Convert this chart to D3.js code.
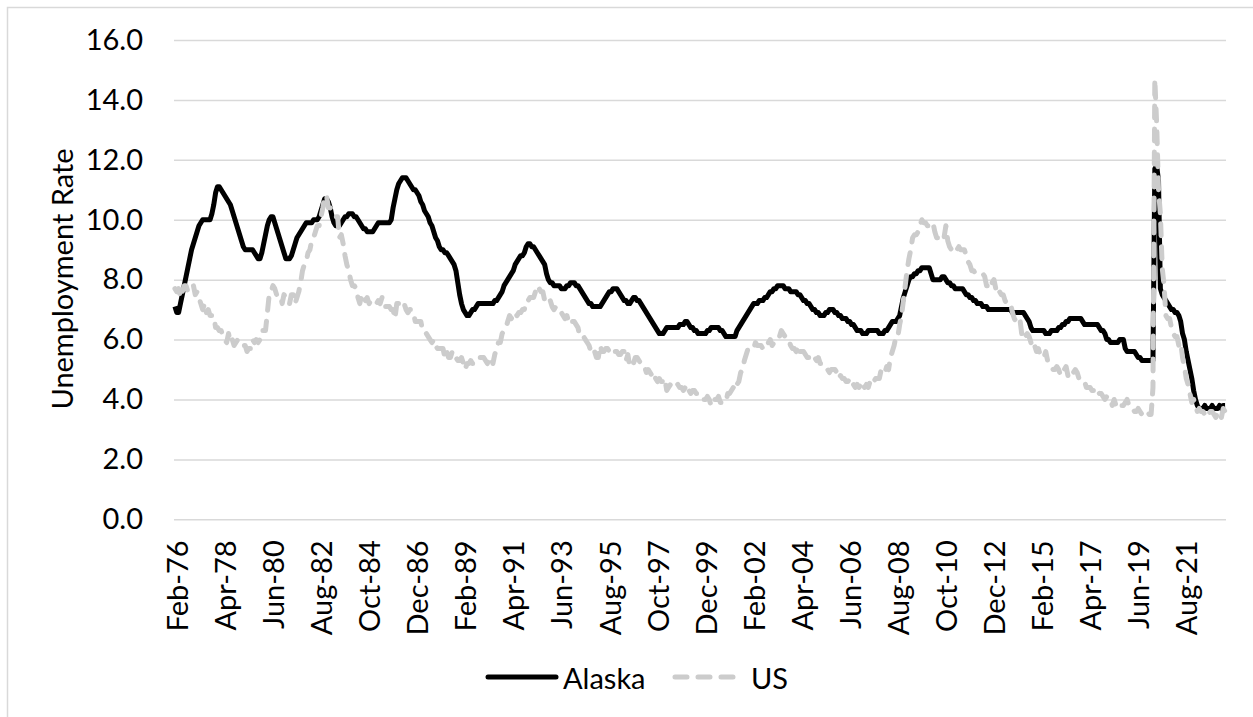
<!DOCTYPE html>
<html>
<head>
<meta charset="utf-8">
<script src="https://cdn.jsdelivr.net/npm/d3@7"></script>
<style>
  html, body { margin: 0; padding: 0; background: #fff; }
  svg { display: block; font-family: Lato, Carlito, Calibri, sans-serif; }
</style>
</head>
<body>
<div id="chart"></div>
<script>
// --- data: monthly unemployment rate, Feb-76 .. Jun-23
const monthNames = ['Jan', 'Feb', 'Mar', 'Apr', 'May', 'Jun', 'Jul', 'Aug', 'Sep', 'Oct', 'Nov', 'Dec'];

const tickLabels = ['Feb-76', 'Apr-78', 'Jun-80', 'Aug-82', 'Oct-84', 'Dec-86', 'Feb-89', 'Apr-91',
    'Jun-93', 'Aug-95', 'Oct-97', 'Dec-99', 'Feb-02', 'Apr-04', 'Jun-06', 'Aug-08', 'Oct-10',
    'Dec-12', 'Feb-15', 'Apr-17', 'Jun-19', 'Aug-21'];

const yTicks = [0, 2, 4, 6, 8, 10, 12, 14, 16];

const seriesNames = ['Alaska', 'US'];

const alaskaRate = [
    7.1, 6.9, 6.9, 7.2, 7.5, 7.8, 8.1, 8.4, 8.7, 9.0, 9.2,                 // 1976 (Feb-)
    9.4, 9.6, 9.8, 9.9, 10.0, 10.0, 10.0, 10.0, 10.0, 10.2, 10.5, 10.9,    // 1977
    11.1, 11.1, 11.0, 10.9, 10.8, 10.7, 10.6, 10.5, 10.3, 10.1, 9.9, 9.7,  // 1978
    9.5, 9.3, 9.1, 9.0, 9.0, 9.0, 9.0, 9.0, 8.9, 8.8, 8.7, 8.7,            // 1979
    8.9, 9.2, 9.5, 9.8, 10.0, 10.1, 10.1, 9.9, 9.7, 9.5, 9.3, 9.1,         // 1980
    8.9, 8.7, 8.7, 8.7, 8.8, 9.0, 9.2, 9.4, 9.5, 9.6, 9.7, 9.8,            // 1981
    9.9, 9.9, 9.9, 9.9, 10.0, 10.0, 10.0, 10.1, 10.3, 10.5, 10.7, 10.7,    // 1982
    10.6, 10.4, 10.1, 9.9, 9.8, 9.8, 9.8, 9.9, 10.0, 10.1, 10.1, 10.2,     // 1983
    10.2, 10.2, 10.1, 10.1, 10.0, 9.9, 9.8, 9.7, 9.7, 9.6, 9.6, 9.6,       // 1984
    9.6, 9.7, 9.8, 9.9, 9.9, 9.9, 9.9, 9.9, 9.9, 9.9, 10.0, 10.4,          // 1985
    10.7, 11.0, 11.2, 11.3, 11.4, 11.4, 11.4, 11.3, 11.2, 11.1, 11.0, 11.0, // 1986
    10.9, 10.8, 10.6, 10.5, 10.3, 10.2, 10.1, 9.9, 9.8, 9.6, 9.4, 9.3,     // 1987
    9.1, 9.0, 9.0, 8.9, 8.9, 8.8, 8.7, 8.6, 8.5, 8.3, 7.9, 7.5,            // 1988
    7.2, 7.0, 6.9, 6.8, 6.8, 6.9, 7.0, 7.0, 7.1, 7.2, 7.2, 7.2,            // 1989
    7.2, 7.2, 7.2, 7.2, 7.2, 7.2, 7.3, 7.3, 7.4, 7.5, 7.6, 7.8,            // 1990
    7.9, 8.0, 8.1, 8.2, 8.3, 8.5, 8.6, 8.7, 8.8, 8.8, 8.9, 9.1,            // 1991
    9.2, 9.2, 9.1, 9.1, 9.0, 8.9, 8.8, 8.7, 8.6, 8.5, 8.2, 8.0,            // 1992
    7.9, 7.9, 7.8, 7.8, 7.8, 7.8, 7.7, 7.7, 7.7, 7.8, 7.8, 7.9,            // 1993
    7.9, 7.9, 7.8, 7.8, 7.7, 7.6, 7.5, 7.4, 7.3, 7.2, 7.2, 7.1,            // 1994
    7.1, 7.1, 7.1, 7.1, 7.2, 7.3, 7.4, 7.5, 7.6, 7.6, 7.7, 7.7,            // 1995
    7.7, 7.6, 7.5, 7.4, 7.3, 7.3, 7.2, 7.2, 7.3, 7.4, 7.4, 7.3,            // 1996
    7.3, 7.2, 7.1, 7.0, 6.9, 6.8, 6.7, 6.6, 6.5, 6.4, 6.3, 6.2,            // 1997
    6.2, 6.2, 6.3, 6.4, 6.4, 6.4, 6.4, 6.4, 6.4, 6.4, 6.5, 6.5,            // 1998
    6.5, 6.6, 6.6, 6.5, 6.4, 6.4, 6.3, 6.3, 6.2, 6.2, 6.2, 6.2,            // 1999
    6.2, 6.3, 6.3, 6.4, 6.4, 6.4, 6.4, 6.4, 6.3, 6.3, 6.2, 6.1,            // 2000
    6.1, 6.1, 6.1, 6.1, 6.1, 6.3, 6.4, 6.5, 6.6, 6.7, 6.8, 6.9,            // 2001
    7.0, 7.1, 7.2, 7.2, 7.2, 7.3, 7.3, 7.3, 7.4, 7.4, 7.5, 7.6,            // 2002
    7.6, 7.7, 7.7, 7.8, 7.8, 7.8, 7.8, 7.7, 7.7, 7.7, 7.6, 7.6,            // 2003
    7.6, 7.6, 7.5, 7.5, 7.4, 7.3, 7.3, 7.2, 7.2, 7.1, 7.0, 7.0,            // 2004
    6.9, 6.9, 6.8, 6.8, 6.8, 6.9, 6.9, 7.0, 7.0, 7.0, 6.9, 6.9,            // 2005
    6.8, 6.8, 6.7, 6.7, 6.7, 6.6, 6.6, 6.5, 6.5, 6.4, 6.3, 6.3,            // 2006
    6.3, 6.2, 6.2, 6.2, 6.3, 6.3, 6.3, 6.3, 6.3, 6.3, 6.2, 6.2,            // 2007
    6.2, 6.3, 6.3, 6.4, 6.5, 6.6, 6.6, 6.6, 6.7, 6.8, 7.1, 7.4,            // 2008
    7.6, 7.8, 8.0, 8.1, 8.1, 8.2, 8.2, 8.3, 8.3, 8.4, 8.4, 8.4,            // 2009
    8.4, 8.4, 8.2, 8.0, 8.0, 8.0, 8.0, 8.0, 8.1, 8.1, 8.0, 7.9,            // 2010
    7.9, 7.8, 7.8, 7.7, 7.7, 7.7, 7.7, 7.7, 7.6, 7.5, 7.5, 7.4,            // 2011
    7.4, 7.3, 7.3, 7.2, 7.2, 7.2, 7.1, 7.1, 7.1, 7.0, 7.0, 7.0,            // 2012
    7.0, 7.0, 7.0, 7.0, 7.0, 7.0, 7.0, 7.0, 7.0, 7.0, 6.9, 6.9,            // 2013
    6.9, 6.9, 6.9, 6.9, 6.9, 6.8, 6.7, 6.6, 6.4, 6.3, 6.3, 6.3,            // 2014
    6.3, 6.3, 6.3, 6.3, 6.2, 6.2, 6.2, 6.3, 6.3, 6.3, 6.3, 6.4,            // 2015
    6.4, 6.5, 6.5, 6.6, 6.6, 6.7, 6.7, 6.7, 6.7, 6.7, 6.7, 6.7,            // 2016
    6.6, 6.5, 6.5, 6.5, 6.5, 6.5, 6.5, 6.5, 6.5, 6.4, 6.3, 6.3,            // 2017
    6.2, 6.0, 6.0, 5.9, 5.9, 5.9, 5.9, 5.9, 6.0, 6.0, 6.0, 5.7,            // 2018
    5.6, 5.6, 5.6, 5.6, 5.6, 5.5, 5.4, 5.4, 5.3, 5.3, 5.3, 5.3,            // 2019
    5.3, 5.3, 5.3, 11.7, 11.8, 11.3, 7.7, 7.5, 7.4, 7.3, 7.2, 7.1,         // 2020
    7.0, 7.0, 6.9, 6.9, 6.8, 6.6, 6.2, 6.0, 5.6, 5.3, 5.0, 4.7,            // 2021
    4.3, 4.0, 3.8, 3.7, 3.7, 3.7, 3.8, 3.7, 3.7, 3.7, 3.8, 3.7,            // 2022
    3.7, 3.7, 3.8, 3.7, 3.8, 3.8                                           // 2023 (-Jun)
];

const usRate = [
    7.7, 7.6, 7.7, 7.4, 7.6, 7.8, 7.8, 7.6, 7.7, 7.8, 7.8,                 // 1976 (Feb-)
    7.5, 7.6, 7.4, 7.2, 7.0, 7.2, 6.9, 7.0, 6.8, 6.8, 6.8, 6.4,            // 1977
    6.4, 6.3, 6.3, 6.1, 6.0, 5.9, 6.2, 5.9, 6.0, 5.8, 5.9, 6.0,            // 1978
    5.9, 5.9, 5.8, 5.8, 5.6, 5.7, 5.7, 6.0, 5.9, 6.0, 5.9, 6.0,            // 1979
    6.3, 6.3, 6.3, 6.9, 7.5, 7.6, 7.8, 7.7, 7.5, 7.5, 7.5, 7.2,            // 1980
    7.5, 7.4, 7.4, 7.2, 7.5, 7.5, 7.2, 7.4, 7.6, 7.9, 8.3, 8.5,            // 1981
    8.6, 8.9, 9.0, 9.3, 9.4, 9.6, 9.8, 9.8, 10.1, 10.4, 10.8, 10.8,        // 1982
    10.4, 10.4, 10.3, 10.2, 10.1, 10.1, 9.4, 9.5, 9.2, 8.8, 8.5, 8.3,      // 1983
    8.0, 7.8, 7.8, 7.7, 7.4, 7.2, 7.5, 7.5, 7.3, 7.4, 7.2, 7.3,            // 1984
    7.3, 7.2, 7.2, 7.3, 7.2, 7.4, 7.4, 7.1, 7.1, 7.1, 7.0, 7.0,            // 1985
    6.7, 7.2, 7.2, 7.1, 7.2, 7.2, 7.0, 6.9, 7.0, 7.0, 6.9, 6.6,            // 1986
    6.6, 6.6, 6.6, 6.3, 6.3, 6.2, 6.1, 6.0, 5.9, 6.0, 5.8, 5.7,            // 1987
    5.7, 5.7, 5.7, 5.4, 5.6, 5.4, 5.4, 5.6, 5.4, 5.4, 5.3, 5.3,            // 1988
    5.4, 5.2, 5.0, 5.2, 5.2, 5.3, 5.2, 5.2, 5.3, 5.3, 5.4, 5.4,            // 1989
    5.4, 5.3, 5.2, 5.4, 5.4, 5.2, 5.5, 5.7, 5.9, 5.9, 6.2, 6.3,            // 1990
    6.4, 6.6, 6.8, 6.7, 6.9, 6.9, 6.8, 6.9, 6.9, 7.0, 7.0, 7.3,            // 1991
    7.3, 7.4, 7.4, 7.4, 7.6, 7.8, 7.7, 7.6, 7.6, 7.3, 7.4, 7.4,            // 1992
    7.3, 7.1, 7.0, 7.1, 7.1, 7.0, 6.9, 6.8, 6.7, 6.8, 6.6, 6.5,            // 1993
    6.6, 6.6, 6.5, 6.4, 6.1, 6.1, 6.1, 6.0, 5.9, 5.8, 5.6, 5.5,            // 1994
    5.6, 5.4, 5.4, 5.8, 5.6, 5.6, 5.7, 5.7, 5.6, 5.5, 5.6, 5.6,            // 1995
    5.6, 5.5, 5.5, 5.6, 5.6, 5.3, 5.5, 5.1, 5.2, 5.2, 5.4, 5.4,            // 1996
    5.3, 5.2, 5.2, 5.1, 4.9, 5.0, 4.9, 4.8, 4.9, 4.7, 4.6, 4.7,            // 1997
    4.6, 4.6, 4.7, 4.3, 4.4, 4.5, 4.5, 4.5, 4.6, 4.5, 4.4, 4.4,            // 1998
    4.3, 4.4, 4.2, 4.3, 4.2, 4.3, 4.3, 4.2, 4.2, 4.1, 4.1, 4.0,            // 1999
    4.0, 4.1, 4.0, 3.8, 4.0, 4.0, 4.0, 4.1, 3.9, 3.9, 3.9, 3.9,            // 2000
    4.2, 4.2, 4.3, 4.4, 4.3, 4.5, 4.6, 4.9, 5.0, 5.3, 5.5, 5.7,            // 2001
    5.7, 5.7, 5.7, 5.9, 5.8, 5.8, 5.8, 5.7, 5.7, 5.7, 5.9, 6.0,            // 2002
    5.8, 5.9, 5.9, 6.0, 6.1, 6.3, 6.2, 6.1, 6.1, 6.0, 5.8, 5.7,            // 2003
    5.7, 5.6, 5.8, 5.6, 5.6, 5.6, 5.5, 5.4, 5.4, 5.5, 5.4, 5.4,            // 2004
    5.3, 5.4, 5.2, 5.2, 5.1, 5.0, 5.0, 4.9, 5.0, 5.0, 5.0, 4.9,            // 2005
    4.7, 4.8, 4.7, 4.7, 4.6, 4.6, 4.7, 4.7, 4.5, 4.4, 4.5, 4.4,            // 2006
    4.6, 4.5, 4.4, 4.5, 4.4, 4.6, 4.7, 4.6, 4.7, 4.7, 4.7, 5.0,            // 2007
    5.0, 4.9, 5.1, 5.0, 5.4, 5.6, 5.8, 6.1, 6.1, 6.5, 6.8, 7.3,            // 2008
    7.8, 8.3, 8.7, 9.0, 9.4, 9.5, 9.5, 9.6, 9.8, 10.0, 9.9, 9.9,           // 2009
    9.8, 9.8, 9.9, 9.9, 9.6, 9.4, 9.4, 9.5, 9.5, 9.4, 9.8, 9.3,            // 2010
    9.1, 9.0, 9.0, 9.1, 9.0, 9.1, 9.0, 9.0, 9.0, 8.8, 8.6, 8.5,            // 2011
    8.3, 8.3, 8.2, 8.2, 8.2, 8.2, 8.2, 8.1, 7.8, 7.8, 7.7, 7.9,            // 2012
    8.0, 7.7, 7.5, 7.6, 7.5, 7.5, 7.3, 7.2, 7.2, 7.2, 6.9, 6.7,            // 2013
    6.6, 6.7, 6.7, 6.2, 6.3, 6.1, 6.2, 6.1, 5.9, 5.7, 5.8, 5.6,            // 2014
    5.7, 5.5, 5.4, 5.4, 5.6, 5.3, 5.2, 5.1, 5.0, 5.0, 5.1, 5.0,            // 2015
    4.8, 4.9, 5.0, 5.1, 4.8, 4.9, 4.8, 4.9, 5.0, 4.9, 4.7, 4.7,            // 2016
    4.7, 4.6, 4.4, 4.4, 4.4, 4.3, 4.3, 4.4, 4.3, 4.2, 4.2, 4.1,            // 2017
    4.0, 4.1, 4.0, 4.0, 3.8, 4.0, 3.8, 3.8, 3.7, 3.8, 3.8, 3.9,            // 2018
    4.0, 3.8, 3.8, 3.7, 3.6, 3.6, 3.7, 3.6, 3.5, 3.6, 3.6, 3.6,            // 2019
    3.5, 3.5, 4.4, 14.7, 13.2, 11.0, 10.2, 8.4, 7.8, 6.8, 6.7, 6.7,        // 2020
    6.4, 6.2, 6.1, 6.1, 5.8, 5.9, 5.4, 5.1, 4.7, 4.5, 4.2, 3.9,            // 2021
    4.0, 3.8, 3.6, 3.7, 3.6, 3.6, 3.5, 3.6, 3.5, 3.6, 3.6, 3.5,            // 2022
    3.4, 3.6, 3.5, 3.4, 3.7, 3.6                                           // 2023 (-Jun)
];

// category labels Feb-76, Mar-76, ...
const categories = alaskaRate.map((_, i) => {
    const m = (1 + i) % 12;
    const yr = (76 + Math.floor((1 + i) / 12)) % 100;
    return monthNames[m] + '-' + String(yr).padStart(2, '0');
});

const width = 1253;
const height = 717;
const plot = { left: 174, right: 1226, top: 40, bottom: 519.3 };
const fontSize = 29;

const svg = d3.select('#chart')
    .append('svg')
    .attr('width', width)
    .attr('height', height);

// --- chart border
svg.append('rect')
    .attr('x', 7.5).attr('y', 7.5)
    .attr('width', 1270).attr('height', 730)
    .attr('fill', '#fff')
    .attr('stroke', '#d9d9d9')
    .attr('stroke-width', 1.5);

// --- scales
const x = d3.scalePoint()
    .domain(d3.range(categories.length))
    .range([plot.left, plot.right])
    .padding(0.5);

const y = d3.scaleLinear()
    .domain([0, 16])
    .range([plot.bottom, plot.top]);

// --- gridlines
const grid = svg.append('g')
    .attr('transform', `translate(${plot.left},0)`)
    .call(d3.axisLeft(y).tickValues(yTicks).tickSize(-(plot.right - plot.left)).tickFormat(''));
grid.select('.domain').remove();
grid.selectAll('line').attr('stroke', '#d9d9d9').attr('stroke-width', 1.5);

// --- y axis labels
const gy = svg.append('g')
    .attr('transform', `translate(${plot.left},0)`)
    .call(d3.axisLeft(y).tickValues(yTicks).tickSize(0).tickPadding(31).tickFormat(d3.format('.1f')));
gy.select('.domain').remove();
gy.selectAll('text')
    .attr('font-family', 'Lato, Carlito, Calibri, sans-serif')
    .attr('font-size', fontSize)
    .attr('fill', '#000');

// --- x axis labels
const tickIdx = tickLabels.map(t => categories.indexOf(t));
const gx = svg.append('g')
    .attr('transform', `translate(0,${plot.bottom})`)
    .call(d3.axisBottom(x).tickValues(tickIdx).tickSize(0).tickFormat(i => categories[i]));
gx.select('.domain').remove();
gx.selectAll('text')
    .attr('font-family', 'Lato, Carlito, Calibri, sans-serif')
    .attr('font-size', fontSize)
    .attr('fill', '#000')
    .attr('text-anchor', 'end')
    .attr('dy', null)
    .attr('y', 0)
    .attr('dominant-baseline', 'central')
    .attr('transform', 'translate(1,21) rotate(-90)');

// --- y axis title
svg.append('text')
    .attr('transform', 'translate(61,279) rotate(-90)')
    .attr('text-anchor', 'middle')
    .attr('dominant-baseline', 'central')
    .attr('font-size', fontSize)
    .attr('fill', '#000')
    .text('Unemployment Rate');

// --- lines
const line = d3.line()
    .x((d, i) => x(i))
    .y(d => y(d));

const styles = {
    Alaska: { stroke: '#000', dash: null, cap: 'butt' },
    US: { stroke: '#cccccc', dash: '12 11', cap: 'round' }
};

[alaskaRate, usRate].forEach((values, k) => {
    const s = styles[seriesNames[k]];
    svg.append('path')
        .datum(values)
        .attr('fill', 'none')
        .attr('stroke', s.stroke)
        .attr('stroke-width', 5)
        .attr('stroke-linejoin', 'round')
        .attr('stroke-linecap', s.cap)
        .attr('stroke-dasharray', s.dash)
        .attr('d', line);
});

// --- legend
const legendItems = [
    { name: seriesNames[0], x1: 488, x2: 556, tx: 563 },
    { name: seriesNames[1], x1: 675, x2: 735, tx: 751 }
];
const legend = svg.append('g');
legendItems.forEach(item => {
    const s = styles[item.name];
    legend.append('line')
        .attr('x1', item.x1).attr('x2', item.x2)
        .attr('y1', 677).attr('y2', 677)
        .attr('stroke', s.stroke)
        .attr('stroke-width', 5)
        .attr('stroke-linecap', 'round')
        .attr('stroke-dasharray', s.dash);
    legend.append('text')
        .attr('x', item.tx)
        .attr('y', 677)
        .attr('dominant-baseline', 'central')
        .attr('font-size', fontSize)
        .attr('fill', '#000')
        .text(item.name);
});
</script>
</body>
</html>
